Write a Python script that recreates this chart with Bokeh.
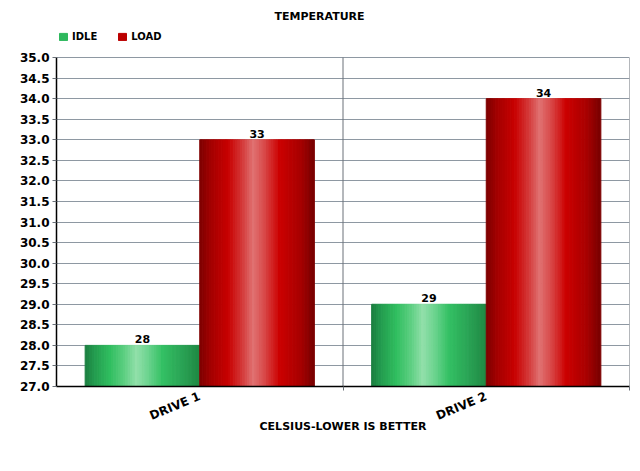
from bokeh.plotting import figure
from bokeh.models import (Range1d, FixedTicker, SingleIntervalTicker, PrintfTickFormatter,
                          ColumnDataSource, Legend, LegendItem)
from bokeh.core.properties import value
from bokeh.embed import file_html
from bokeh.resources import INLINE

# ---- data ----
drives = ["DRIVE 1", "DRIVE 2"]
idle = [28, 29]
load = [33, 34]
series_names = ["IDLE", "LOAD"]
y_min, y_max, y_step = 27.0, 35.0, 0.5
title_text = "TEMPERATURE"
x_label = "CELSIUS-LOWER IS BETTER"

FONT = "DejaVu Sans"

def hex2rgb(h):
    h = h.lstrip("#")
    return tuple(int(h[i:i + 2], 16) for i in (0, 2, 4))

def interp(stops, t):
    for (t0, c0), (t1, c1) in zip(stops[:-1], stops[1:]):
        if t0 <= t <= t1:
            f = 0 if t1 == t0 else (t - t0) / (t1 - t0)
            a, b = hex2rgb(c0), hex2rgb(c1)
            return "#%02x%02x%02x" % tuple(int(round(a[i] + (b[i] - a[i]) * f)) for i in range(3))
    return stops[-1][1]

green_stops = [(0, "#1b7d40"), (0.08, "#239a4e"), (0.22, "#30be60"), (0.35, "#5fd083"),
               (0.45, "#92dfaa"), (0.55, "#6dd490"), (0.68, "#33c063"), (0.85, "#2aa355"),
               (1, "#1f8843")]
red_stops = [(0, "#7c0000"), (0.1, "#a30000"), (0.25, "#c80000"), (0.38, "#d43c3c"),
             (0.47, "#e07272"), (0.57, "#d84848"), (0.7, "#cc0000"), (0.88, "#a80000"),
             (1, "#780000")]

# frame extends above the value axis to host the legend row
plot_h_px = 329.0
legend_room_px = 28.0
y_top = y_max + legend_room_px * (y_max - y_min) / plot_h_px

p = figure(width=631, height=455, output_backend="svg", toolbar_location=None,
           x_range=Range1d(0, len(drives)), y_range=Range1d(y_min, y_top),
           min_border_left=56, min_border_right=2, min_border_top=29, min_border_bottom=69)
p.outline_line_color = None
p.background_fill_color = "white"
p.border_fill_color = "white"
p.xgrid.visible = False

centers = [i + 0.5 for i in range(len(drives))]
bounds = [i + 1 for i in range(len(drives))]
group_w = 0.8
bar_w = group_w / 2
N = 48

# category separators
p.segment(x0=bounds, y0=[y_min] * len(bounds), x1=bounds, y1=[y_max] * len(bounds),
          line_color="#6a7078", line_width=1)

renderers = []
for si, (vals, stops) in enumerate([(idle, green_stops), (load, red_stops)]):
    L, R, T, B, C = [], [], [], [], []
    for ci, v in enumerate(vals):
        left0 = centers[ci] - group_w / 2 + si * bar_w
        for k in range(N):
            L.append(left0 + bar_w * k / N)
            R.append(left0 + bar_w * (k + 1) / N)
            T.append(v)
            B.append(y_min)
            C.append(interp(stops, (k + 0.5) / N))
    src = ColumnDataSource(dict(left=L, right=R, top=T, bottom=B, color=C))
    r = p.quad(left="left", right="right", top="top", bottom="bottom", source=src,
               fill_color="color", line_color="color", line_width=1)
    renderers.append(r)

# value labels
lx, ly, lt = [], [], []
for si, vals in enumerate([idle, load]):
    for ci, v in enumerate(vals):
        lx.append(centers[ci] - group_w / 2 + si * bar_w + bar_w / 2)
        ly.append(v)
        lt.append(str(v))
p.text(x=lx, y=ly, text=lt, text_align="center", text_baseline="bottom", y_offset=-2,
       text_font=value(FONT), text_font_style="bold", text_font_size="11px", text_color="black")

# axes
p.yaxis.bounds = (y_min, y_max)
p.yaxis.ticker = SingleIntervalTicker(interval=y_step)
p.yaxis.formatter = PrintfTickFormatter(format="%.1f")
p.yaxis.major_label_text_font = FONT
p.yaxis.major_label_text_font_style = "bold"
p.yaxis.major_label_text_font_size = "12px"
p.yaxis.major_label_text_color = "black"
p.yaxis.axis_line_color = "black"
p.yaxis.axis_line_width = 1.5
p.yaxis.major_tick_line_color = "#6a7078"
p.yaxis.major_tick_out = 4
p.yaxis.major_tick_in = 0
p.yaxis.minor_tick_line_color = None
p.yaxis.major_label_standoff = 3

p.xaxis.ticker = FixedTicker(ticks=centers, minor_ticks=bounds)
p.xaxis.major_label_overrides = {c: d for c, d in zip(centers, drives)}
p.xaxis.major_label_orientation = 0.4
p.xaxis.major_label_text_font = FONT
p.xaxis.major_label_text_font_style = "bold"
p.xaxis.major_label_text_font_size = "12px"
p.xaxis.major_label_text_color = "black"
p.xaxis.major_label_standoff = 3
p.xaxis.major_tick_line_color = None
p.xaxis.minor_tick_line_color = "#6a7078"
p.xaxis.minor_tick_out = 4
p.xaxis.minor_tick_in = 0
p.xaxis.axis_line_color = "black"
p.xaxis.axis_line_width = 1.5
p.xaxis.axis_label = x_label
p.xaxis.axis_label_text_font = FONT
p.xaxis.axis_label_text_font_style = "bold"
p.xaxis.axis_label_text_font_size = "11px"
p.xaxis.axis_label_text_color = "black"
p.xaxis.axis_label_standoff = -12

p.ygrid.grid_line_color = "#8e98a2"
p.ygrid.grid_line_width = 1

p.title.text = title_text
p.title.align = "left"
p.title.vertical_align = "top"
p.title.offset = 218
p.title.standoff = 10
p.title.text_font = FONT
p.title.text_font_style = "bold"
p.title.text_font_size = "11px"
p.title.text_color = "black"

legend = Legend(items=[LegendItem(label=series_names[i], renderers=[renderers[i]], index=N // 5)
                       for i in range(2)],
                orientation="horizontal", location="top_left",
                label_text_font=FONT, label_text_font_style="bold", label_text_font_size="10px",
                label_text_color="black",
                glyph_width=10, glyph_height=9, spacing=20, padding=0, margin=2,
                label_standoff=4, border_line_color=None, background_fill_alpha=0)
p.add_layout(legend, "center")

open("out.html", "w").write(file_html(p, INLINE))
